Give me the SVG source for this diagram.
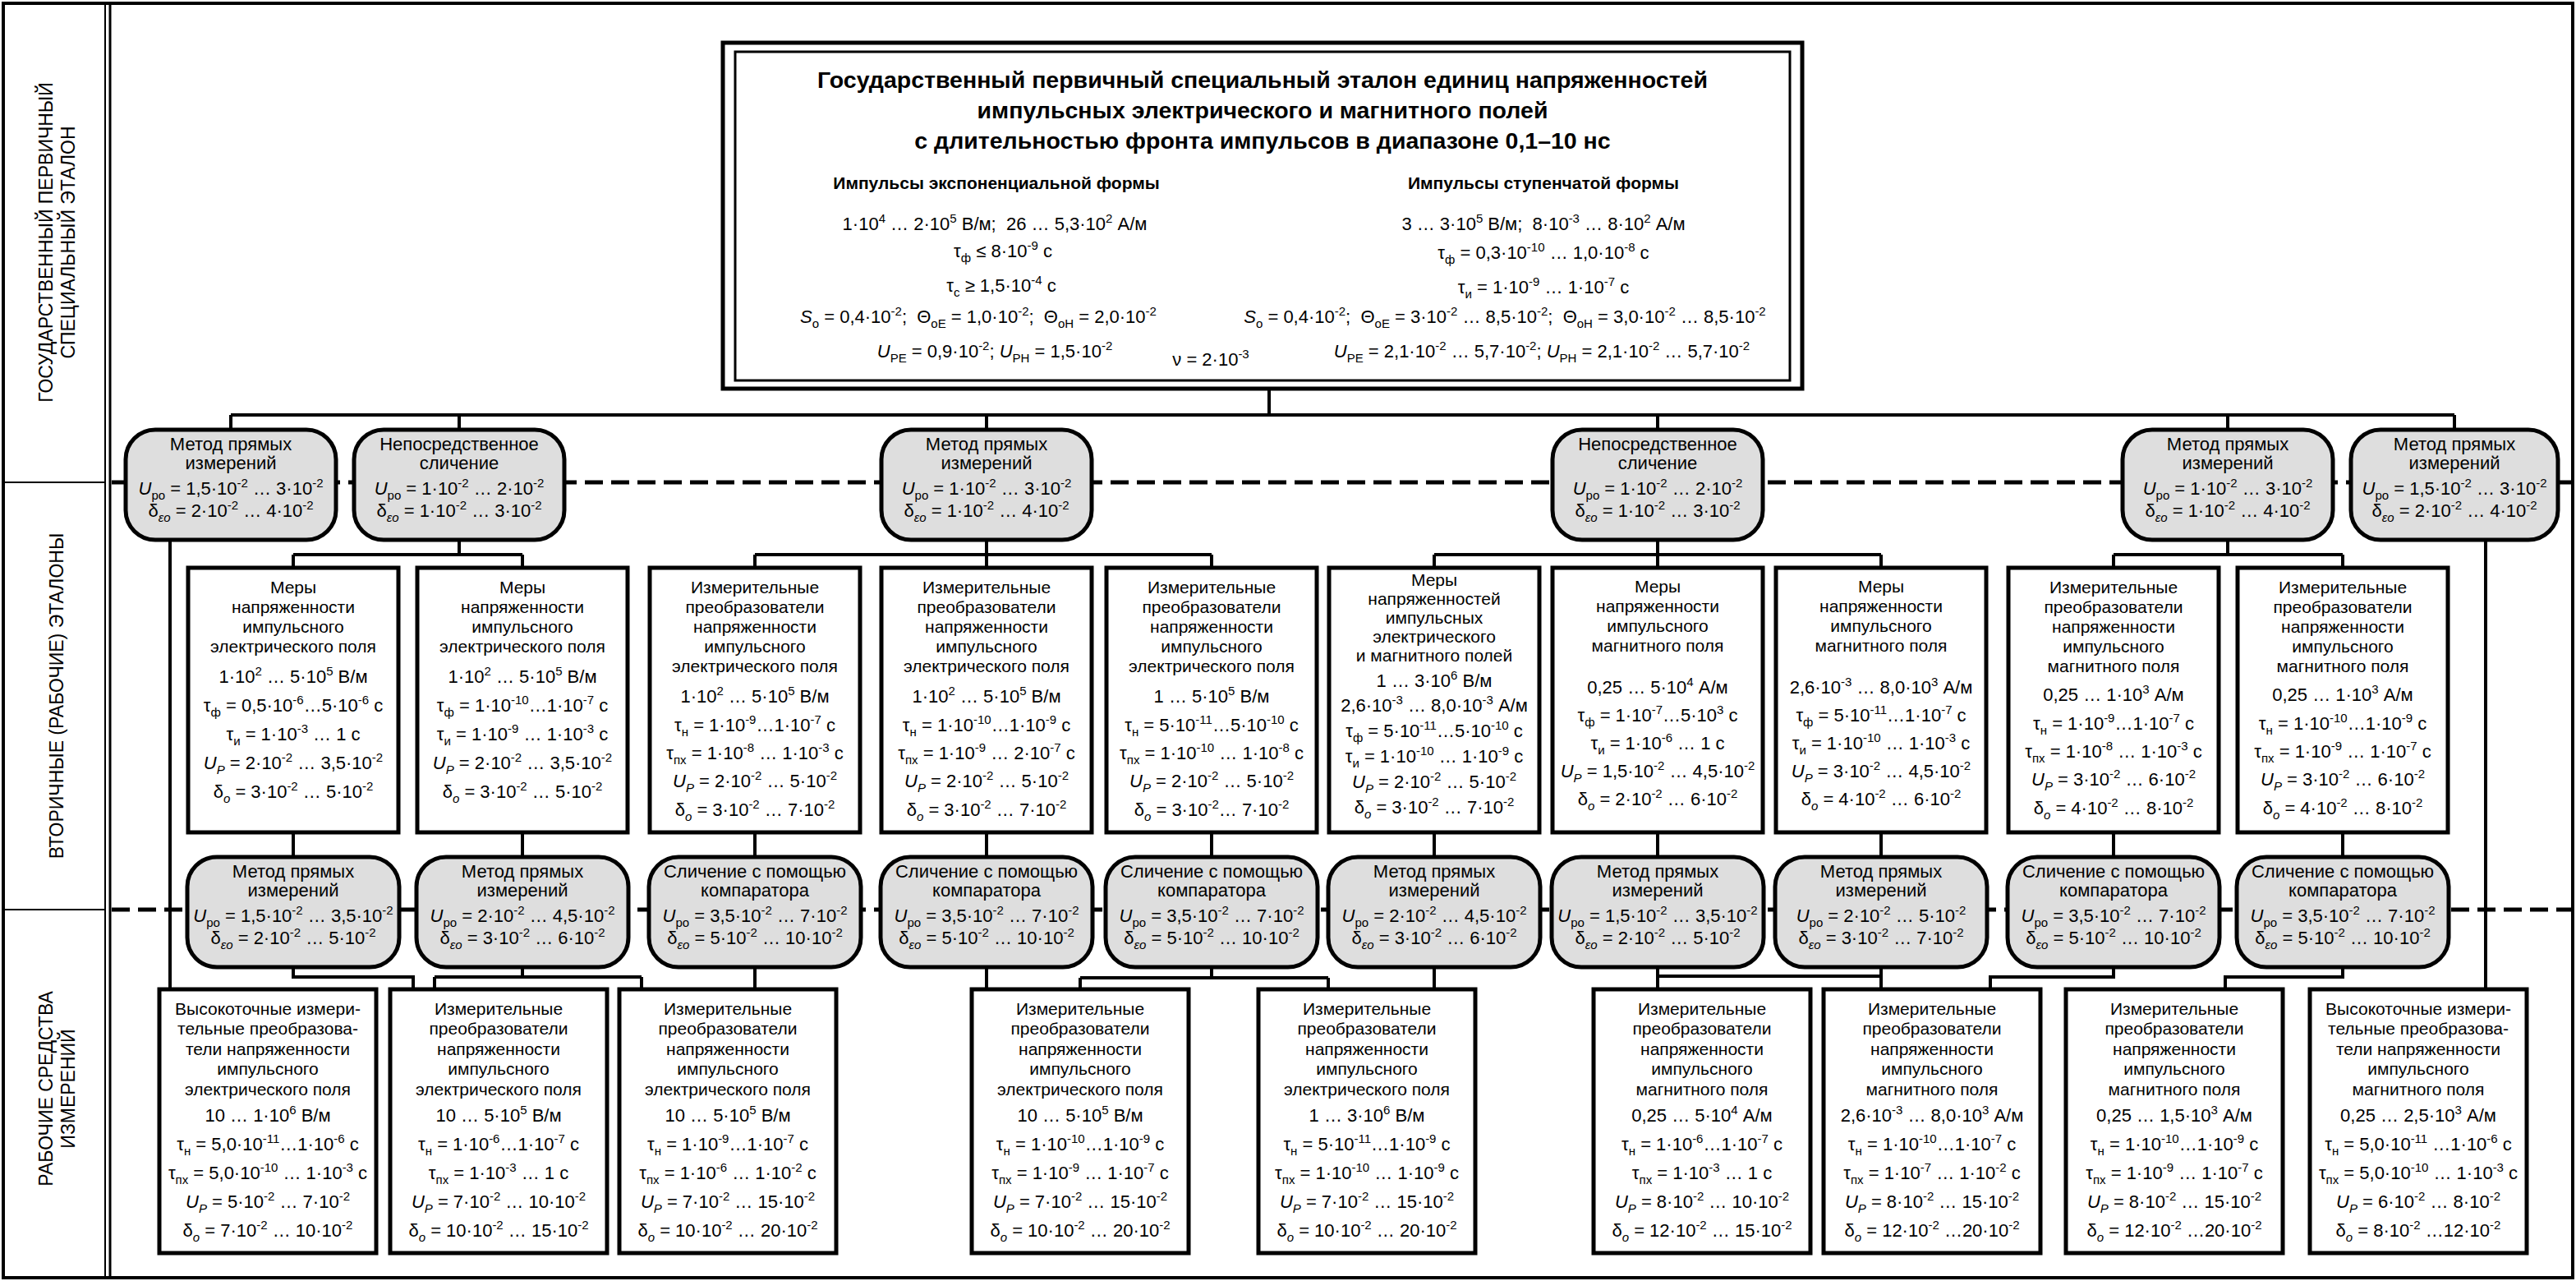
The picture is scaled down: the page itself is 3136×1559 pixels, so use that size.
<svg xmlns="http://www.w3.org/2000/svg" width="3136" height="1559" viewBox="0 0 3136 1559">
<style>
text{font-family:"Liberation Sans",Arial,sans-serif;fill:#000;text-anchor:middle}
.t{font-size:21px}
.f{font-size:22px}
.o{font-size:22px}
.of{font-size:22px}
.h{font-size:28.5px;font-weight:bold}
.hs{font-size:21px;font-weight:bold}
.sd{font-size:23px}
.u{font-size:15px;baseline-shift:9px}
.d{font-size:15px;baseline-shift:-6px}
.di{font-size:15px;baseline-shift:-6px;font-style:italic}
.i{font-style:italic}
.box{fill:#fff;stroke:#000;stroke-width:5}
.ov{fill:#dedede;stroke:#000;stroke-width:5}
.ln{fill:none;stroke:#000;stroke-width:4}
.dash{fill:none;stroke:#000;stroke-width:5;stroke-dasharray:22 10}
</style>
<rect x="0" y="0" width="3136" height="1559" fill="#fff"/>
<rect x="4" y="4" width="3128" height="1551" fill="none" stroke="#000" stroke-width="4"/>
<g id="sidebar">
<line x1="128" y1="4" x2="128" y2="1555" stroke="#000" stroke-width="2"/>
<line x1="134" y1="4" x2="134" y2="1555" stroke="#000" stroke-width="3"/>
<line x1="4" y1="587" x2="128" y2="587" stroke="#000" stroke-width="2"/>
<line x1="4" y1="1107" x2="128" y2="1107" stroke="#000" stroke-width="2"/>
<text class="sd" transform="translate(64,295) rotate(-90)">ГОСУДАРСТВЕННЫЙ ПЕРВИЧНЫЙ</text>
<text class="sd" transform="translate(91,295) rotate(-90)">СПЕЦИАЛЬНЫЙ ЭТАЛОН</text>
<text class="sd" transform="translate(77,847) rotate(-90)">ВТОРИЧНЫЕ (РАБОЧИЕ) ЭТАЛОНЫ</text>
<text class="sd" transform="translate(64,1325) rotate(-90)">РАБОЧИЕ СРЕДСТВА</text>
<text class="sd" transform="translate(91,1325) rotate(-90)">ИЗМЕРЕНИЙ</text>
</g>
<path class="dash" d="M136 587H3132M136 1107H3132"/>
<g id="connectors" class="ln">
<path d="M1545 473V505M281 505H2988M281 505V523M559 505V523M1201 505V523M2018 505V523M2712 505V523M2988 505V523"/>
<path d="M207 657V1204M3026 657V1204"/>
<path d="M559 657V675M357 675H636M357 675V691M636 675V691"/>
<path d="M1201 657V691M919 675H1475M919 675V691M1475 675V691"/>
<path d="M2018 657V691M1746 675H2290M1746 675V691M2290 675V691"/>
<path d="M2712 657V675M2573 675H2852M2573 675V691M2852 675V691"/>
<path d="M357 1013V1043M636 1013V1043M919 1013V1043M1201 1013V1043M1475 1013V1043M1746 1013V1043M2018 1013V1043M2290 1013V1043M2573 1013V1043M2852 1013V1043"/>
<path d="M357 1177V1189H503V1204M636 1177V1189M529 1189H781M529 1189V1204M781 1189V1204M919 1177V1204M1201 1177V1204"/>
<path d="M1475 1177V1190M1315 1190H1617M1315 1190V1204M1617 1190V1204M1746 1177V1204M2018 1177V1204M2018 1188H2290M2290 1177V1204"/>
<path d="M2573 1177V1189H2423V1204M2852 1177V1189H2709V1204"/>
</g>
<g id="primary">
<rect x="880" y="52" width="1314" height="421" fill="#fff" stroke="#000" stroke-width="5"/>
<rect x="895" y="63" width="1284" height="400" fill="none" stroke="#000" stroke-width="3"/>
<text class="h" x="1537" y="107">Государственный первичный специальный эталон единиц напряженностей</text>
<text class="h" x="1537" y="144">импульсных электрического и магнитного полей</text>
<text class="h" x="1537" y="181">с длительностью фронта импульсов в диапазоне 0,1–10 нс</text>
<text class="hs" x="1213" y="230">Импульсы экспоненциальной формы</text>
<text class="f" x="1211" y="280">1·10<tspan class="u">4</tspan> … 2·10<tspan class="u">5</tspan> В/м; &#160;26 … 5,3·10<tspan class="u">2</tspan> А/м</text>
<text class="f" x="1221" y="313">τ<tspan class="d">ф</tspan> ≤ 8·10<tspan class="u">-9</tspan> с</text>
<text class="f" x="1219" y="355">τ<tspan class="d">с</tspan> ≥ 1,5·10<tspan class="u">-4</tspan> с</text>
<text class="f" x="1191" y="393"><tspan class="i">S</tspan><tspan class="d">о</tspan> = 0,4·10<tspan class="u">-2</tspan>; &#160;Θ<tspan class="d">оE</tspan> = 1,0·10<tspan class="u">-2</tspan>; &#160;Θ<tspan class="d">оH</tspan> = 2,0·10<tspan class="u">-2</tspan></text>
<text class="f" x="1211" y="435"><tspan class="i">U</tspan><tspan class="d">PE</tspan> = 0,9·10<tspan class="u">-2</tspan>; <tspan class="i">U</tspan><tspan class="d">PH</tspan> = 1,5·10<tspan class="u">-2</tspan></text>
<text class="f" x="1474" y="445">ν = 2·10<tspan class="u">-3</tspan></text>
<text class="hs" x="1879" y="230">Импульсы ступенчатой формы</text>
<text class="f" x="1879" y="280">3 … 3·10<tspan class="u">5</tspan> В/м; &#160;8·10<tspan class="u">-3</tspan> … 8·10<tspan class="u">2</tspan> А/м</text>
<text class="f" x="1879" y="315">τ<tspan class="d">ф</tspan> = 0,3·10<tspan class="u">-10</tspan> … 1,0·10<tspan class="u">-8</tspan> с</text>
<text class="f" x="1879" y="357">τ<tspan class="d">и</tspan> = 1·10<tspan class="u">-9</tspan> … 1·10<tspan class="u">-7</tspan> с</text>
<text class="f" x="1832" y="393"><tspan class="i">S</tspan><tspan class="d">о</tspan> = 0,4·10<tspan class="u">-2</tspan>; &#160;Θ<tspan class="d">оE</tspan> = 3·10<tspan class="u">-2</tspan> … 8,5·10<tspan class="u">-2</tspan>; &#160;Θ<tspan class="d">оH</tspan> = 3,0·10<tspan class="u">-2</tspan> … 8,5·10<tspan class="u">-2</tspan></text>
<text class="f" x="1877" y="435"><tspan class="i">U</tspan><tspan class="d">PE</tspan> = 2,1·10<tspan class="u">-2</tspan> … 5,7·10<tspan class="u">-2</tspan>; <tspan class="i">U</tspan><tspan class="d">PH</tspan> = 2,1·10<tspan class="u">-2</tspan> … 5,7·10<tspan class="u">-2</tspan></text>
</g>
<g id="to1"><rect class="ov" x="153" y="523" width="256" height="134" rx="36"/>
<text class="o" x="281" y="548">Метод прямых</text><text class="o" x="281" y="571">измерений</text>
<text class="of" x="281" y="602"><tspan class="i">U</tspan><tspan class="d">ро</tspan> = 1,5·10<tspan class="u">-2</tspan> … 3·10<tspan class="u">-2</tspan></text>
<text class="of" x="281" y="629">δ<tspan class="di">εo</tspan> = 2·10<tspan class="u">-2</tspan> … 4·10<tspan class="u">-2</tspan></text></g>
<g id="to2"><rect class="ov" x="431" y="523" width="256" height="134" rx="36"/>
<text class="o" x="559" y="548">Непосредственное</text><text class="o" x="559" y="571">сличение</text>
<text class="of" x="559" y="602"><tspan class="i">U</tspan><tspan class="d">ро</tspan> = 1·10<tspan class="u">-2</tspan> … 2·10<tspan class="u">-2</tspan></text>
<text class="of" x="559" y="629">δ<tspan class="di">εo</tspan> = 1·10<tspan class="u">-2</tspan> … 3·10<tspan class="u">-2</tspan></text></g>
<g id="to3"><rect class="ov" x="1073" y="523" width="256" height="134" rx="36"/>
<text class="o" x="1201" y="548">Метод прямых</text><text class="o" x="1201" y="571">измерений</text>
<text class="of" x="1201" y="602"><tspan class="i">U</tspan><tspan class="d">ро</tspan> = 1·10<tspan class="u">-2</tspan> … 3·10<tspan class="u">-2</tspan></text>
<text class="of" x="1201" y="629">δ<tspan class="di">εo</tspan> = 1·10<tspan class="u">-2</tspan> … 4·10<tspan class="u">-2</tspan></text></g>
<g id="to4"><rect class="ov" x="1890" y="523" width="256" height="134" rx="36"/>
<text class="o" x="2018" y="548">Непосредственное</text><text class="o" x="2018" y="571">сличение</text>
<text class="of" x="2018" y="602"><tspan class="i">U</tspan><tspan class="d">ро</tspan> = 1·10<tspan class="u">-2</tspan> … 2·10<tspan class="u">-2</tspan></text>
<text class="of" x="2018" y="629">δ<tspan class="di">εo</tspan> = 1·10<tspan class="u">-2</tspan> … 3·10<tspan class="u">-2</tspan></text></g>
<g id="to5"><rect class="ov" x="2584" y="523" width="256" height="134" rx="36"/>
<text class="o" x="2712" y="548">Метод прямых</text><text class="o" x="2712" y="571">измерений</text>
<text class="of" x="2712" y="602"><tspan class="i">U</tspan><tspan class="d">ро</tspan> = 1·10<tspan class="u">-2</tspan> … 3·10<tspan class="u">-2</tspan></text>
<text class="of" x="2712" y="629">δ<tspan class="di">εo</tspan> = 1·10<tspan class="u">-2</tspan> … 4·10<tspan class="u">-2</tspan></text></g>
<g id="to6"><rect class="ov" x="2862" y="523" width="252" height="134" rx="36"/>
<text class="o" x="2988" y="548">Метод прямых</text><text class="o" x="2988" y="571">измерений</text>
<text class="of" x="2988" y="602"><tspan class="i">U</tspan><tspan class="d">ро</tspan> = 1,5·10<tspan class="u">-2</tspan> … 3·10<tspan class="u">-2</tspan></text>
<text class="of" x="2988" y="629">δ<tspan class="di">εo</tspan> = 2·10<tspan class="u">-2</tspan> … 4·10<tspan class="u">-2</tspan></text></g>
<g id="m1"><rect class="box" x="229" y="691" width="256" height="322"/>
<text class="t" x="357" y="722">Меры</text><text class="t" x="357" y="746">напряженности</text><text class="t" x="357" y="770">импульсного</text><text class="t" x="357" y="794">электрического поля</text>
<text class="f" x="357" y="831">1·10<tspan class="u">2</tspan> … 5·10<tspan class="u">5</tspan> В/м</text>
<text class="f" x="357" y="866">τ<tspan class="d">ф</tspan> = 0,5·10<tspan class="u">-6</tspan>…5·10<tspan class="u">-6</tspan> с</text>
<text class="f" x="357" y="901">τ<tspan class="d">и</tspan> = 1·10<tspan class="u">-3</tspan> … 1 с</text>
<text class="f" x="357" y="936"><tspan class="i">U</tspan><tspan class="di">P</tspan> = 2·10<tspan class="u">-2</tspan> … 3,5·10<tspan class="u">-2</tspan></text>
<text class="f" x="357" y="971">δ<tspan class="di">o</tspan> = 3·10<tspan class="u">-2</tspan> … 5·10<tspan class="u">-2</tspan></text></g>
<g id="m2"><rect class="box" x="508" y="691" width="256" height="322"/>
<text class="t" x="636" y="722">Меры</text><text class="t" x="636" y="746">напряженности</text><text class="t" x="636" y="770">импульсного</text><text class="t" x="636" y="794">электрического поля</text>
<text class="f" x="636" y="831">1·10<tspan class="u">2</tspan> … 5·10<tspan class="u">5</tspan> В/м</text>
<text class="f" x="636" y="866">τ<tspan class="d">ф</tspan> = 1·10<tspan class="u">-10</tspan>…1·10<tspan class="u">-7</tspan> с</text>
<text class="f" x="636" y="901">τ<tspan class="d">и</tspan> = 1·10<tspan class="u">-9</tspan> … 1·10<tspan class="u">-3</tspan> с</text>
<text class="f" x="636" y="936"><tspan class="i">U</tspan><tspan class="di">P</tspan> = 2·10<tspan class="u">-2</tspan> … 3,5·10<tspan class="u">-2</tspan></text>
<text class="f" x="636" y="971">δ<tspan class="di">o</tspan> = 3·10<tspan class="u">-2</tspan> … 5·10<tspan class="u">-2</tspan></text></g>
<g id="m3"><rect class="box" x="791" y="691" width="256" height="322"/>
<text class="t" x="919" y="722">Измерительные</text><text class="t" x="919" y="746">преобразователи</text><text class="t" x="919" y="770">напряженности</text><text class="t" x="919" y="794">импульсного</text><text class="t" x="919" y="818">электрического поля</text>
<text class="f" x="919" y="855">1·10<tspan class="u">2</tspan> … 5·10<tspan class="u">5</tspan> В/м</text>
<text class="f" x="919" y="890">τ<tspan class="d">н</tspan> = 1·10<tspan class="u">-9</tspan>…1·10<tspan class="u">-7</tspan> с</text>
<text class="f" x="919" y="924">τ<tspan class="d">пх</tspan> = 1·10<tspan class="u">-8</tspan> … 1·10<tspan class="u">-3</tspan> с</text>
<text class="f" x="919" y="958"><tspan class="i">U</tspan><tspan class="di">P</tspan> = 2·10<tspan class="u">-2</tspan> … 5·10<tspan class="u">-2</tspan></text>
<text class="f" x="919" y="993">δ<tspan class="di">o</tspan> = 3·10<tspan class="u">-2</tspan> … 7·10<tspan class="u">-2</tspan></text></g>
<g id="m4"><rect class="box" x="1073" y="691" width="256" height="322"/>
<text class="t" x="1201" y="722">Измерительные</text><text class="t" x="1201" y="746">преобразователи</text><text class="t" x="1201" y="770">напряженности</text><text class="t" x="1201" y="794">импульсного</text><text class="t" x="1201" y="818">электрического поля</text>
<text class="f" x="1201" y="855">1·10<tspan class="u">2</tspan> … 5·10<tspan class="u">5</tspan> В/м</text>
<text class="f" x="1201" y="890">τ<tspan class="d">н</tspan> = 1·10<tspan class="u">-10</tspan>…1·10<tspan class="u">-9</tspan> с</text>
<text class="f" x="1201" y="924">τ<tspan class="d">пх</tspan> = 1·10<tspan class="u">-9</tspan> … 2·10<tspan class="u">-7</tspan> с</text>
<text class="f" x="1201" y="958"><tspan class="i">U</tspan><tspan class="di">P</tspan> = 2·10<tspan class="u">-2</tspan> … 5·10<tspan class="u">-2</tspan></text>
<text class="f" x="1201" y="993">δ<tspan class="di">o</tspan> = 3·10<tspan class="u">-2</tspan> … 7·10<tspan class="u">-2</tspan></text></g>
<g id="m5"><rect class="box" x="1347" y="691" width="256" height="322"/>
<text class="t" x="1475" y="722">Измерительные</text><text class="t" x="1475" y="746">преобразователи</text><text class="t" x="1475" y="770">напряженности</text><text class="t" x="1475" y="794">импульсного</text><text class="t" x="1475" y="818">электрического поля</text>
<text class="f" x="1475" y="855">1 … 5·10<tspan class="u">5</tspan> В/м</text>
<text class="f" x="1475" y="890">τ<tspan class="d">н</tspan> = 5·10<tspan class="u">-11</tspan>…5·10<tspan class="u">-10</tspan> с</text>
<text class="f" x="1475" y="924">τ<tspan class="d">пх</tspan> = 1·10<tspan class="u">-10</tspan> … 1·10<tspan class="u">-8</tspan> с</text>
<text class="f" x="1475" y="958"><tspan class="i">U</tspan><tspan class="di">P</tspan> = 2·10<tspan class="u">-2</tspan> … 5·10<tspan class="u">-2</tspan></text>
<text class="f" x="1475" y="993">δ<tspan class="di">o</tspan> = 3·10<tspan class="u">-2</tspan>… 7·10<tspan class="u">-2</tspan></text></g>
<g id="m6"><rect class="box" x="1618" y="691" width="256" height="322"/>
<text class="t" x="1746" y="713">Меры</text><text class="t" x="1746" y="736">напряженностей</text><text class="t" x="1746" y="759">импульсных</text><text class="t" x="1746" y="782">электрического</text><text class="t" x="1746" y="805">и магнитного полей</text>
<text class="f" x="1746" y="836">1 … 3·10<tspan class="u">6</tspan> В/м</text>
<text class="f" x="1746" y="866">2,6·10<tspan class="u">-3</tspan> … 8,0·10<tspan class="u">-3</tspan> А/м</text>
<text class="f" x="1746" y="897">τ<tspan class="d">ф</tspan> = 5·10<tspan class="u">-11</tspan>…5·10<tspan class="u">-10</tspan> с</text>
<text class="f" x="1746" y="928">τ<tspan class="d">и</tspan> = 1·10<tspan class="u">-10</tspan> … 1·10<tspan class="u">-9</tspan> с</text>
<text class="f" x="1746" y="959"><tspan class="i">U</tspan><tspan class="di">P</tspan> = 2·10<tspan class="u">-2</tspan> … 5·10<tspan class="u">-2</tspan></text>
<text class="f" x="1746" y="990">δ<tspan class="di">o</tspan> = 3·10<tspan class="u">-2</tspan> … 7·10<tspan class="u">-2</tspan></text></g>
<g id="m7"><rect class="box" x="1890" y="691" width="256" height="322"/>
<text class="t" x="2018" y="721">Меры</text><text class="t" x="2018" y="745">напряженности</text><text class="t" x="2018" y="769">импульсного</text><text class="t" x="2018" y="793">магнитного поля</text>
<text class="f" x="2018" y="844">0,25 … 5·10<tspan class="u">4</tspan> А/м</text>
<text class="f" x="2018" y="878">τ<tspan class="d">ф</tspan> = 1·10<tspan class="u">-7</tspan>…5·10<tspan class="u">3</tspan> с</text>
<text class="f" x="2018" y="912">τ<tspan class="d">и</tspan> = 1·10<tspan class="u">-6</tspan> … 1 с</text>
<text class="f" x="2018" y="946"><tspan class="i">U</tspan><tspan class="di">P</tspan> = 1,5·10<tspan class="u">-2</tspan> … 4,5·10<tspan class="u">-2</tspan></text>
<text class="f" x="2018" y="980">δ<tspan class="di">o</tspan> = 2·10<tspan class="u">-2</tspan> … 6·10<tspan class="u">-2</tspan></text></g>
<g id="m8"><rect class="box" x="2162" y="691" width="256" height="322"/>
<text class="t" x="2290" y="721">Меры</text><text class="t" x="2290" y="745">напряженности</text><text class="t" x="2290" y="769">импульсного</text><text class="t" x="2290" y="793">магнитного поля</text>
<text class="f" x="2290" y="844">2,6·10<tspan class="u">-3</tspan> … 8,0·10<tspan class="u">3</tspan> А/м</text>
<text class="f" x="2290" y="878">τ<tspan class="d">ф</tspan> = 5·10<tspan class="u">-11</tspan>…1·10<tspan class="u">-7</tspan> с</text>
<text class="f" x="2290" y="912">τ<tspan class="d">и</tspan> = 1·10<tspan class="u">-10</tspan> … 1·10<tspan class="u">-3</tspan> с</text>
<text class="f" x="2290" y="946"><tspan class="i">U</tspan><tspan class="di">P</tspan> = 3·10<tspan class="u">-2</tspan> … 4,5·10<tspan class="u">-2</tspan></text>
<text class="f" x="2290" y="980">δ<tspan class="di">o</tspan> = 4·10<tspan class="u">-2</tspan> … 6·10<tspan class="u">-2</tspan></text></g>
<g id="m9"><rect class="box" x="2445" y="691" width="256" height="322"/>
<text class="t" x="2573" y="722">Измерительные</text><text class="t" x="2573" y="746">преобразователи</text><text class="t" x="2573" y="770">напряженности</text><text class="t" x="2573" y="794">импульсного</text><text class="t" x="2573" y="818">магнитного поля</text>
<text class="f" x="2573" y="853">0,25 … 1·10<tspan class="u">3</tspan> А/м</text>
<text class="f" x="2573" y="888">τ<tspan class="d">н</tspan> = 1·10<tspan class="u">-9</tspan>…1·10<tspan class="u">-7</tspan> с</text>
<text class="f" x="2573" y="922">τ<tspan class="d">пх</tspan> = 1·10<tspan class="u">-8</tspan> … 1·10<tspan class="u">-3</tspan> с</text>
<text class="f" x="2573" y="956"><tspan class="i">U</tspan><tspan class="di">P</tspan> = 3·10<tspan class="u">-2</tspan> … 6·10<tspan class="u">-2</tspan></text>
<text class="f" x="2573" y="991">δ<tspan class="di">o</tspan> = 4·10<tspan class="u">-2</tspan> … 8·10<tspan class="u">-2</tspan></text></g>
<g id="m10"><rect class="box" x="2724" y="691" width="256" height="322"/>
<text class="t" x="2852" y="722">Измерительные</text><text class="t" x="2852" y="746">преобразователи</text><text class="t" x="2852" y="770">напряженности</text><text class="t" x="2852" y="794">импульсного</text><text class="t" x="2852" y="818">магнитного поля</text>
<text class="f" x="2852" y="853">0,25 … 1·10<tspan class="u">3</tspan> А/м</text>
<text class="f" x="2852" y="888">τ<tspan class="d">н</tspan> = 1·10<tspan class="u">-10</tspan>…1·10<tspan class="u">-9</tspan> с</text>
<text class="f" x="2852" y="922">τ<tspan class="d">пх</tspan> = 1·10<tspan class="u">-9</tspan> … 1·10<tspan class="u">-7</tspan> с</text>
<text class="f" x="2852" y="956"><tspan class="i">U</tspan><tspan class="di">P</tspan> = 3·10<tspan class="u">-2</tspan> … 6·10<tspan class="u">-2</tspan></text>
<text class="f" x="2852" y="991">δ<tspan class="di">o</tspan> = 4·10<tspan class="u">-2</tspan> … 8·10<tspan class="u">-2</tspan></text></g>
<g id="bo1"><rect class="ov" x="228" y="1043" width="258" height="134" rx="36"/>
<text class="o" x="357" y="1068">Метод прямых</text><text class="o" x="357" y="1091">измерений</text>
<text class="of" x="357" y="1122"><tspan class="i">U</tspan><tspan class="d">ро</tspan> = 1,5·10<tspan class="u">-2</tspan> … 3,5·10<tspan class="u">-2</tspan></text>
<text class="of" x="357" y="1149">δ<tspan class="di">εo</tspan> = 2·10<tspan class="u">-2</tspan> … 5·10<tspan class="u">-2</tspan></text></g>
<g id="bo2"><rect class="ov" x="507" y="1043" width="258" height="134" rx="36"/>
<text class="o" x="636" y="1068">Метод прямых</text><text class="o" x="636" y="1091">измерений</text>
<text class="of" x="636" y="1122"><tspan class="i">U</tspan><tspan class="d">ро</tspan> = 2·10<tspan class="u">-2</tspan> … 4,5·10<tspan class="u">-2</tspan></text>
<text class="of" x="636" y="1149">δ<tspan class="di">εo</tspan> = 3·10<tspan class="u">-2</tspan> … 6·10<tspan class="u">-2</tspan></text></g>
<g id="bo3"><rect class="ov" x="790" y="1043" width="258" height="134" rx="36"/>
<text class="o" x="919" y="1068">Сличение с помощью</text><text class="o" x="919" y="1091">компаратора</text>
<text class="of" x="919" y="1122"><tspan class="i">U</tspan><tspan class="d">ро</tspan> = 3,5·10<tspan class="u">-2</tspan> … 7·10<tspan class="u">-2</tspan></text>
<text class="of" x="919" y="1149">δ<tspan class="di">εo</tspan> = 5·10<tspan class="u">-2</tspan> … 10·10<tspan class="u">-2</tspan></text></g>
<g id="bo4"><rect class="ov" x="1072" y="1043" width="258" height="134" rx="36"/>
<text class="o" x="1201" y="1068">Сличение с помощью</text><text class="o" x="1201" y="1091">компаратора</text>
<text class="of" x="1201" y="1122"><tspan class="i">U</tspan><tspan class="d">ро</tspan> = 3,5·10<tspan class="u">-2</tspan> … 7·10<tspan class="u">-2</tspan></text>
<text class="of" x="1201" y="1149">δ<tspan class="di">εo</tspan> = 5·10<tspan class="u">-2</tspan> … 10·10<tspan class="u">-2</tspan></text></g>
<g id="bo5"><rect class="ov" x="1346" y="1043" width="258" height="134" rx="36"/>
<text class="o" x="1475" y="1068">Сличение с помощью</text><text class="o" x="1475" y="1091">компаратора</text>
<text class="of" x="1475" y="1122"><tspan class="i">U</tspan><tspan class="d">ро</tspan> = 3,5·10<tspan class="u">-2</tspan> … 7·10<tspan class="u">-2</tspan></text>
<text class="of" x="1475" y="1149">δ<tspan class="di">εo</tspan> = 5·10<tspan class="u">-2</tspan> … 10·10<tspan class="u">-2</tspan></text></g>
<g id="bo6"><rect class="ov" x="1617" y="1043" width="258" height="134" rx="36"/>
<text class="o" x="1746" y="1068">Метод прямых</text><text class="o" x="1746" y="1091">измерений</text>
<text class="of" x="1746" y="1122"><tspan class="i">U</tspan><tspan class="d">ро</tspan> = 2·10<tspan class="u">-2</tspan> … 4,5·10<tspan class="u">-2</tspan></text>
<text class="of" x="1746" y="1149">δ<tspan class="di">εo</tspan> = 3·10<tspan class="u">-2</tspan> … 6·10<tspan class="u">-2</tspan></text></g>
<g id="bo7"><rect class="ov" x="1889" y="1043" width="258" height="134" rx="36"/>
<text class="o" x="2018" y="1068">Метод прямых</text><text class="o" x="2018" y="1091">измерений</text>
<text class="of" x="2018" y="1122"><tspan class="i">U</tspan><tspan class="d">ро</tspan> = 1,5·10<tspan class="u">-2</tspan> … 3,5·10<tspan class="u">-2</tspan></text>
<text class="of" x="2018" y="1149">δ<tspan class="di">εo</tspan> = 2·10<tspan class="u">-2</tspan> … 5·10<tspan class="u">-2</tspan></text></g>
<g id="bo8"><rect class="ov" x="2161" y="1043" width="258" height="134" rx="36"/>
<text class="o" x="2290" y="1068">Метод прямых</text><text class="o" x="2290" y="1091">измерений</text>
<text class="of" x="2290" y="1122"><tspan class="i">U</tspan><tspan class="d">ро</tspan> = 2·10<tspan class="u">-2</tspan> … 5·10<tspan class="u">-2</tspan></text>
<text class="of" x="2290" y="1149">δ<tspan class="di">εo</tspan> = 3·10<tspan class="u">-2</tspan> … 7·10<tspan class="u">-2</tspan></text></g>
<g id="bo9"><rect class="ov" x="2444" y="1043" width="258" height="134" rx="36"/>
<text class="o" x="2573" y="1068">Сличение с помощью</text><text class="o" x="2573" y="1091">компаратора</text>
<text class="of" x="2573" y="1122"><tspan class="i">U</tspan><tspan class="d">ро</tspan> = 3,5·10<tspan class="u">-2</tspan> … 7·10<tspan class="u">-2</tspan></text>
<text class="of" x="2573" y="1149">δ<tspan class="di">εo</tspan> = 5·10<tspan class="u">-2</tspan> … 10·10<tspan class="u">-2</tspan></text></g>
<g id="bo10"><rect class="ov" x="2723" y="1043" width="258" height="134" rx="36"/>
<text class="o" x="2852" y="1068">Сличение с помощью</text><text class="o" x="2852" y="1091">компаратора</text>
<text class="of" x="2852" y="1122"><tspan class="i">U</tspan><tspan class="d">ро</tspan> = 3,5·10<tspan class="u">-2</tspan> … 7·10<tspan class="u">-2</tspan></text>
<text class="of" x="2852" y="1149">δ<tspan class="di">εo</tspan> = 5·10<tspan class="u">-2</tspan> … 10·10<tspan class="u">-2</tspan></text></g>
<g id="b1"><rect class="box" x="194" y="1204" width="264" height="321"/>
<text class="t" x="326" y="1235">Высокоточные измери-</text><text class="t" x="326" y="1259">тельные преобразова-</text><text class="t" x="326" y="1284">тели напряженности</text><text class="t" x="326" y="1308">импульсного</text><text class="t" x="326" y="1333">электрического поля</text>
<text class="f" x="326" y="1365">10 … 1·10<tspan class="u">6</tspan> В/м</text>
<text class="f" x="326" y="1400">τ<tspan class="d">н</tspan> = 5,0·10<tspan class="u">-11</tspan>…1·10<tspan class="u">-6</tspan> с</text>
<text class="f" x="326" y="1435">τ<tspan class="d">пх</tspan> = 5,0·10<tspan class="u">-10</tspan> … 1·10<tspan class="u">-3</tspan> с</text>
<text class="f" x="326" y="1470"><tspan class="i">U</tspan><tspan class="di">P</tspan> = 5·10<tspan class="u">-2</tspan> … 7·10<tspan class="u">-2</tspan></text>
<text class="f" x="326" y="1505">δ<tspan class="di">o</tspan> = 7·10<tspan class="u">-2</tspan> … 10·10<tspan class="u">-2</tspan></text></g>
<g id="b2"><rect class="box" x="475" y="1204" width="264" height="321"/>
<text class="t" x="607" y="1235">Измерительные</text><text class="t" x="607" y="1259">преобразователи</text><text class="t" x="607" y="1284">напряженности</text><text class="t" x="607" y="1308">импульсного</text><text class="t" x="607" y="1333">электрического поля</text>
<text class="f" x="607" y="1365">10 … 5·10<tspan class="u">5</tspan> В/м</text>
<text class="f" x="607" y="1400">τ<tspan class="d">н</tspan> = 1·10<tspan class="u">-6</tspan>…1·10<tspan class="u">-7</tspan> с</text>
<text class="f" x="607" y="1435">τ<tspan class="d">пх</tspan> = 1·10<tspan class="u">-3</tspan> … 1 с</text>
<text class="f" x="607" y="1470"><tspan class="i">U</tspan><tspan class="di">P</tspan> = 7·10<tspan class="u">-2</tspan> … 10·10<tspan class="u">-2</tspan></text>
<text class="f" x="607" y="1505">δ<tspan class="di">o</tspan> = 10·10<tspan class="u">-2</tspan> … 15·10<tspan class="u">-2</tspan></text></g>
<g id="b3"><rect class="box" x="754" y="1204" width="264" height="321"/>
<text class="t" x="886" y="1235">Измерительные</text><text class="t" x="886" y="1259">преобразователи</text><text class="t" x="886" y="1284">напряженности</text><text class="t" x="886" y="1308">импульсного</text><text class="t" x="886" y="1333">электрического поля</text>
<text class="f" x="886" y="1365">10 … 5·10<tspan class="u">5</tspan> В/м</text>
<text class="f" x="886" y="1400">τ<tspan class="d">н</tspan> = 1·10<tspan class="u">-9</tspan>…1·10<tspan class="u">-7</tspan> с</text>
<text class="f" x="886" y="1435">τ<tspan class="d">пх</tspan> = 1·10<tspan class="u">-6</tspan> … 1·10<tspan class="u">-2</tspan> с</text>
<text class="f" x="886" y="1470"><tspan class="i">U</tspan><tspan class="di">P</tspan> = 7·10<tspan class="u">-2</tspan> … 15·10<tspan class="u">-2</tspan></text>
<text class="f" x="886" y="1505">δ<tspan class="di">o</tspan> = 10·10<tspan class="u">-2</tspan> … 20·10<tspan class="u">-2</tspan></text></g>
<g id="b4"><rect class="box" x="1183" y="1204" width="264" height="321"/>
<text class="t" x="1315" y="1235">Измерительные</text><text class="t" x="1315" y="1259">преобразователи</text><text class="t" x="1315" y="1284">напряженности</text><text class="t" x="1315" y="1308">импульсного</text><text class="t" x="1315" y="1333">электрического поля</text>
<text class="f" x="1315" y="1365">10 … 5·10<tspan class="u">5</tspan> В/м</text>
<text class="f" x="1315" y="1400">τ<tspan class="d">н</tspan> = 1·10<tspan class="u">-10</tspan>…1·10<tspan class="u">-9</tspan> с</text>
<text class="f" x="1315" y="1435">τ<tspan class="d">пх</tspan> = 1·10<tspan class="u">-9</tspan> … 1·10<tspan class="u">-7</tspan> с</text>
<text class="f" x="1315" y="1470"><tspan class="i">U</tspan><tspan class="di">P</tspan> = 7·10<tspan class="u">-2</tspan> … 15·10<tspan class="u">-2</tspan></text>
<text class="f" x="1315" y="1505">δ<tspan class="di">o</tspan> = 10·10<tspan class="u">-2</tspan> … 20·10<tspan class="u">-2</tspan></text></g>
<g id="b5"><rect class="box" x="1532" y="1204" width="264" height="321"/>
<text class="t" x="1664" y="1235">Измерительные</text><text class="t" x="1664" y="1259">преобразователи</text><text class="t" x="1664" y="1284">напряженности</text><text class="t" x="1664" y="1308">импульсного</text><text class="t" x="1664" y="1333">электрического поля</text>
<text class="f" x="1664" y="1365">1 … 3·10<tspan class="u">6</tspan> В/м</text>
<text class="f" x="1664" y="1400">τ<tspan class="d">н</tspan> = 5·10<tspan class="u">-11</tspan>…1·10<tspan class="u">-9</tspan> с</text>
<text class="f" x="1664" y="1435">τ<tspan class="d">пх</tspan> = 1·10<tspan class="u">-10</tspan> … 1·10<tspan class="u">-9</tspan> с</text>
<text class="f" x="1664" y="1470"><tspan class="i">U</tspan><tspan class="di">P</tspan> = 7·10<tspan class="u">-2</tspan> … 15·10<tspan class="u">-2</tspan></text>
<text class="f" x="1664" y="1505">δ<tspan class="di">o</tspan> = 10·10<tspan class="u">-2</tspan> … 20·10<tspan class="u">-2</tspan></text></g>
<g id="b6"><rect class="box" x="1940" y="1204" width="264" height="321"/>
<text class="t" x="2072" y="1235">Измерительные</text><text class="t" x="2072" y="1259">преобразователи</text><text class="t" x="2072" y="1284">напряженности</text><text class="t" x="2072" y="1308">импульсного</text><text class="t" x="2072" y="1333">магнитного поля</text>
<text class="f" x="2072" y="1365">0,25 … 5·10<tspan class="u">4</tspan> А/м</text>
<text class="f" x="2072" y="1400">τ<tspan class="d">н</tspan> = 1·10<tspan class="u">-6</tspan>…1·10<tspan class="u">-7</tspan> с</text>
<text class="f" x="2072" y="1435">τ<tspan class="d">пх</tspan> = 1·10<tspan class="u">-3</tspan> … 1 с</text>
<text class="f" x="2072" y="1470"><tspan class="i">U</tspan><tspan class="di">P</tspan> = 8·10<tspan class="u">-2</tspan> … 10·10<tspan class="u">-2</tspan></text>
<text class="f" x="2072" y="1505">δ<tspan class="di">o</tspan> = 12·10<tspan class="u">-2</tspan> … 15·10<tspan class="u">-2</tspan></text></g>
<g id="b7"><rect class="box" x="2220" y="1204" width="264" height="321"/>
<text class="t" x="2352" y="1235">Измерительные</text><text class="t" x="2352" y="1259">преобразователи</text><text class="t" x="2352" y="1284">напряженности</text><text class="t" x="2352" y="1308">импульсного</text><text class="t" x="2352" y="1333">магнитного поля</text>
<text class="f" x="2352" y="1365">2,6·10<tspan class="u">-3</tspan> … 8,0·10<tspan class="u">3</tspan> А/м</text>
<text class="f" x="2352" y="1400">τ<tspan class="d">н</tspan> = 1·10<tspan class="u">-10</tspan>…1·10<tspan class="u">-7</tspan> с</text>
<text class="f" x="2352" y="1435">τ<tspan class="d">пх</tspan> = 1·10<tspan class="u">-7</tspan> … 1·10<tspan class="u">-2</tspan> с</text>
<text class="f" x="2352" y="1470"><tspan class="i">U</tspan><tspan class="di">P</tspan> = 8·10<tspan class="u">-2</tspan> … 15·10<tspan class="u">-2</tspan></text>
<text class="f" x="2352" y="1505">δ<tspan class="di">o</tspan> = 12·10<tspan class="u">-2</tspan> …20·10<tspan class="u">-2</tspan></text></g>
<g id="b8"><rect class="box" x="2515" y="1204" width="264" height="321"/>
<text class="t" x="2647" y="1235">Измерительные</text><text class="t" x="2647" y="1259">преобразователи</text><text class="t" x="2647" y="1284">напряженности</text><text class="t" x="2647" y="1308">импульсного</text><text class="t" x="2647" y="1333">магнитного поля</text>
<text class="f" x="2647" y="1365">0,25 … 1,5·10<tspan class="u">3</tspan> А/м</text>
<text class="f" x="2647" y="1400">τ<tspan class="d">н</tspan> = 1·10<tspan class="u">-10</tspan>…1·10<tspan class="u">-9</tspan> с</text>
<text class="f" x="2647" y="1435">τ<tspan class="d">пх</tspan> = 1·10<tspan class="u">-9</tspan> … 1·10<tspan class="u">-7</tspan> с</text>
<text class="f" x="2647" y="1470"><tspan class="i">U</tspan><tspan class="di">P</tspan> = 8·10<tspan class="u">-2</tspan> … 15·10<tspan class="u">-2</tspan></text>
<text class="f" x="2647" y="1505">δ<tspan class="di">o</tspan> = 12·10<tspan class="u">-2</tspan> …20·10<tspan class="u">-2</tspan></text></g>
<g id="b9"><rect class="box" x="2812" y="1204" width="264" height="321"/>
<text class="t" x="2944" y="1235">Высокоточные измери-</text><text class="t" x="2944" y="1259">тельные преобразова-</text><text class="t" x="2944" y="1284">тели напряженности</text><text class="t" x="2944" y="1308">импульсного</text><text class="t" x="2944" y="1333">магнитного поля</text>
<text class="f" x="2944" y="1365">0,25 … 2,5·10<tspan class="u">3</tspan> А/м</text>
<text class="f" x="2944" y="1400">τ<tspan class="d">н</tspan> = 5,0·10<tspan class="u">-11</tspan> …1·10<tspan class="u">-6</tspan> с</text>
<text class="f" x="2944" y="1435">τ<tspan class="d">пх</tspan> = 5,0·10<tspan class="u">-10</tspan> … 1·10<tspan class="u">-3</tspan> с</text>
<text class="f" x="2944" y="1470"><tspan class="i">U</tspan><tspan class="di">P</tspan> = 6·10<tspan class="u">-2</tspan> … 8·10<tspan class="u">-2</tspan></text>
<text class="f" x="2944" y="1505">δ<tspan class="di">o</tspan> = 8·10<tspan class="u">-2</tspan> …12·10<tspan class="u">-2</tspan></text></g>
</svg>
